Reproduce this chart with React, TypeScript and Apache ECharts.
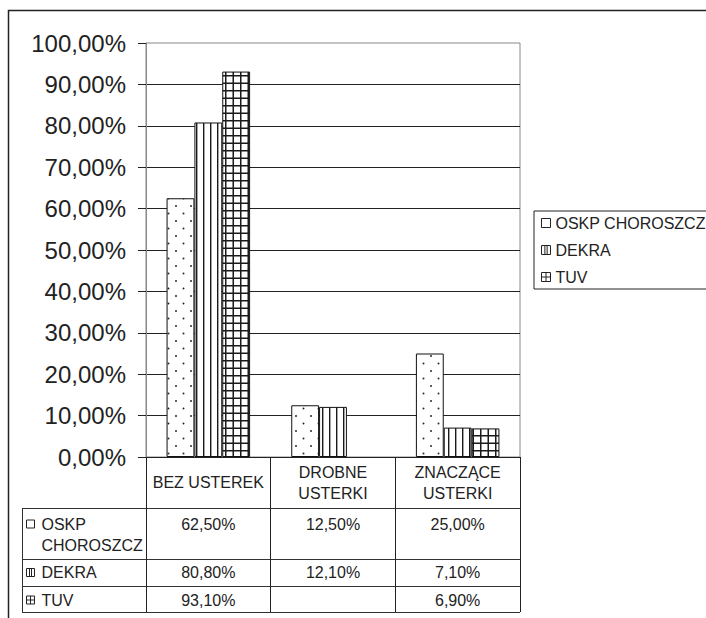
import React, { useEffect, useRef } from 'react';
import * as echarts from 'echarts';

const categories = ['BEZ USTEREK', 'DROBNE\nUSTERKI', 'ZNACZĄCE\nUSTERKI'];
const seriesNames = ['OSKP CHOROSZCZ', 'DEKRA', 'TUV'];
const oskpValues: (number | null)[] = [62.5, 12.5, 25.0];
const dekraValues: (number | null)[] = [80.8, 12.1, 7.1];
const tuvValues: (number | null)[] = [93.1, null, 6.9];
const yMin = 0;
const yMax = 100;
const yInterval = 10;

const FONT = 'Liberation Sans, Arial, Helvetica, sans-serif';
const INK = '#222';
const FS = 16;

const fmt = (v: number | null) => (v == null ? '' : v.toFixed(2).replace('.', ',') + '%');

function makeTile(kind: 'dots' | 'stripes' | 'grid'): HTMLCanvasElement {
  const c = document.createElement('canvas');
  const ctx = c.getContext('2d')!;
  if (kind === 'dots') {
    c.width = 15; c.height = 15;
    ctx.fillStyle = '#fff'; ctx.fillRect(0, 0, 15, 15);
    ctx.fillStyle = '#2a2a2a';
    ctx.beginPath(); ctx.arc(3.5, 3.5, 1.0, 0, Math.PI * 2); ctx.fill();
    ctx.beginPath(); ctx.arc(11, 11, 1.0, 0, Math.PI * 2); ctx.fill();
  } else if (kind === 'stripes') {
    c.width = 7; c.height = 7;
    ctx.fillStyle = '#fff'; ctx.fillRect(0, 0, 7, 7);
    ctx.fillStyle = '#1a1a1a'; ctx.fillRect(0, 0, 1.4, 7);
  } else {
    c.width = 15; c.height = 15;
    ctx.fillStyle = '#fff'; ctx.fillRect(0, 0, 15, 15);
    ctx.fillStyle = '#1a1a1a';
    ctx.fillRect(0, 0, 1.5, 15); ctx.fillRect(7.5, 0, 1.5, 15);
    ctx.fillRect(0, 0, 15, 1.5); ctx.fillRect(0, 7.5, 15, 1.5);
  }
  return c;
}

const legendIcons = [
  'path://M0,0H8V8H0Z',
  'path://M0,0H8V8H0ZM3,0V8M5,0V8',
  'path://M0,0H8V8H0ZM4,0V8M0,4H8',
];

export default function App() {
  const ref = useRef<HTMLDivElement>(null);
  useEffect(() => {
    const chart = echarts.init(ref.current!, null, { renderer: 'svg' });
    const tiles = [makeTile('dots'), makeTile('stripes'), makeTile('grid')];
    const values = [oskpValues, dekraValues, tuvValues];

    chart.setOption({
      animation: false,
      backgroundColor: '#fff',
      textStyle: { fontFamily: FONT },
      grid: { left: 146, right: 186, top: 43, bottom: 161, show: true, borderColor: '#888', borderWidth: 1 },
      legend: {
        orient: 'vertical',
        left: 534,
        top: 211,
        padding: [4, 80, 4, 7],
        itemWidth: 9,
        itemHeight: 9,
        itemGap: 11,
        borderColor: INK,
        borderWidth: 1,
        selectedMode: false,
        textStyle: { fontSize: FS, color: INK, fontFamily: FONT, lineHeight: 16 },
        data: seriesNames.map((n, i) => ({
          name: n,
          icon: legendIcons[i],
          itemStyle: { color: '#fff', borderColor: INK, borderWidth: 1 },
        })),
      },
      xAxis: {
        type: 'category',
        data: categories,
        axisLine: { show: true, lineStyle: { color: INK, width: 1 } },
        axisTick: { show: true, length: 155, alignWithLabel: false, interval: 0, lineStyle: { color: INK, width: 1 } },
        axisLabel: {
          interval: 0,
          fontSize: FS,
          lineHeight: 21,
          color: INK,
          fontFamily: FONT,
          margin: 25.5,
          verticalAlign: 'middle',
        },
        splitLine: { show: false },
      },
      yAxis: {
        type: 'value',
        min: yMin,
        max: yMax,
        interval: yInterval,
        axisLine: { show: true, lineStyle: { color: '#888', width: 1 } },
        axisTick: { show: true, length: 8, lineStyle: { color: INK } },
        axisLabel: {
          fontSize: 24,
          color: INK,
          fontFamily: FONT,
          margin: 20,
          padding: [4, 0, 0, 0],
          formatter: (v: number) => fmt(v),
        },
        splitLine: { show: true, showMinLine: false, showMaxLine: false, lineStyle: { color: INK, width: 1 } },
      },
      series: seriesNames.map((n, i) => ({
        name: n,
        type: 'bar',
        data: values[i],
        barGap: '0%',
        barCategoryGap: '33%',
        itemStyle: {
          color: { image: tiles[i], repeat: 'repeat' },
          borderColor: '#111',
          borderWidth: 1,
        },
        emphasis: { disabled: true },
      })),
    });

    // data table under the chart
    const xs = categories.map((_, i) => chart.convertToPixel({ xAxisIndex: 0 }, i) as number);
    const tableLeft = 22;
    const tableRight = 520;
    const rowLines = [508, 559, 586, 612];
    const rowTops = [513.5, 562, 589.5];
    const graphics: any[] = [];
    graphics.push({
      type: 'rect',
      shape: { x: 8.5, y: 10.5, width: 900, height: 900 },
      style: { fill: 'none', stroke: INK, lineWidth: 1.5 },
      silent: true,
    });
    rowLines.forEach((y) => {
      graphics.push({
        type: 'line',
        shape: { x1: tableLeft, y1: y + 0.5, x2: tableRight, y2: y + 0.5 },
        style: { stroke: '#333', lineWidth: 1 },
        silent: true,
      });
    });
    graphics.push({
      type: 'line',
      shape: { x1: tableLeft + 0.5, y1: rowLines[0], x2: tableLeft + 0.5, y2: rowLines[3] + 1 },
      style: { stroke: '#333', lineWidth: 1 },
      silent: true,
    });
    seriesNames.forEach((n, r) => {
      const top = rowTops[r];
      const cy = top + 10.5;
      graphics.push({
        type: 'rect',
        shape: { x: 26.5, y: cy - 4, width: 8, height: 8 },
        style: { fill: '#fff', stroke: INK, lineWidth: 1 },
        silent: true,
      });
      if (r === 1) {
        [29.5, 31.5].forEach((x) =>
          graphics.push({ type: 'line', shape: { x1: x, y1: cy - 4, x2: x, y2: cy + 4 }, style: { stroke: INK, lineWidth: 1 }, silent: true })
        );
      }
      if (r === 2) {
        graphics.push({ type: 'line', shape: { x1: 30.5, y1: cy - 4, x2: 30.5, y2: cy + 4 }, style: { stroke: INK, lineWidth: 1 }, silent: true });
        graphics.push({ type: 'line', shape: { x1: 26.5, y1: cy, x2: 34.5, y2: cy }, style: { stroke: INK, lineWidth: 1 }, silent: true });
      }
      graphics.push({
        type: 'text',
        x: 41.5,
        y: top,
        style: {
          text: n,
          width: 102,
          overflow: 'break',
          fontSize: FS,
          lineHeight: 21,
          fontFamily: FONT,
          fill: INK,
          align: 'left',
          verticalAlign: 'top',
        },
        silent: true,
      });
      values[r].forEach((v, c) => {
        graphics.push({
          type: 'text',
          x: xs[c],
          y: top,
          style: {
            text: fmt(v),
            fontSize: FS,
            lineHeight: 21,
            fontFamily: FONT,
            fill: INK,
            align: 'center',
            verticalAlign: 'top',
          },
          silent: true,
        });
      });
    });
    chart.setOption({ graphic: graphics });

    return () => chart.dispose();
  }, []);
  return (
    <div
      ref={ref}
      style={{ position: 'fixed', left: 0, top: 0, width: 706, height: 618, background: '#fff' }}
    />
  );
}
